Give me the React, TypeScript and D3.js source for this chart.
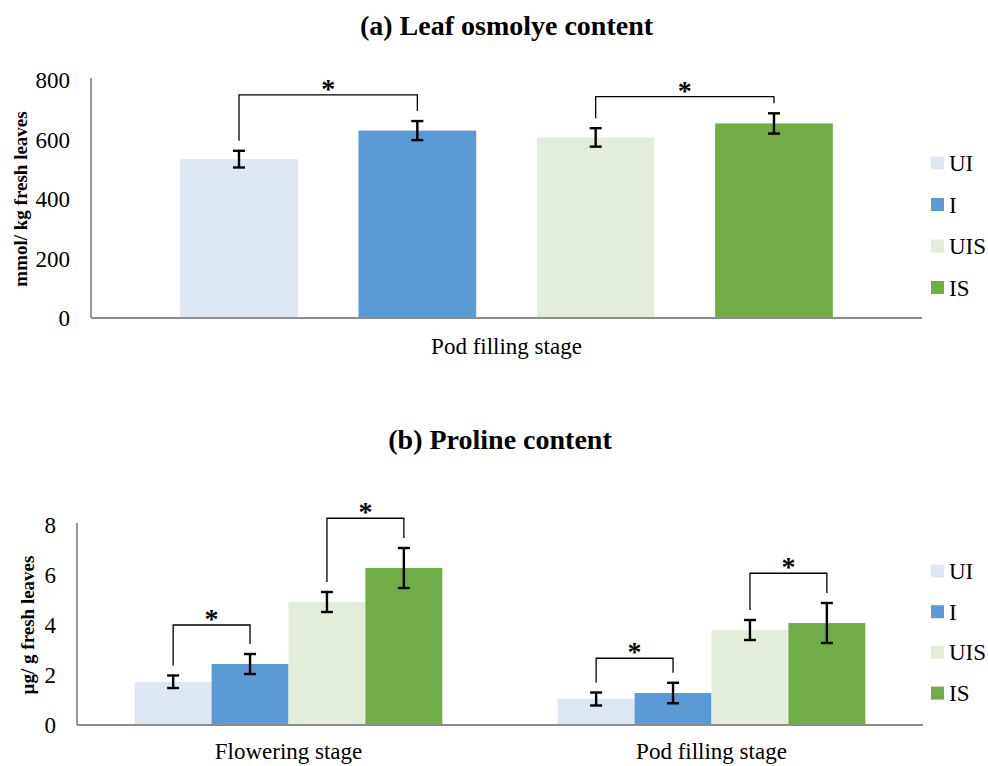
import { scaleBand, scaleLinear } from "d3";

const seriesNames = ["UI", "I", "UIS", "IS"];
const seriesColors = ["#DDE8F4", "#5B9BD5", "#E2EEDA", "#70AD47"];

// (a) leaf osmolyte
const osmoCategories = ["Pod filling stage"];
const osmoValues = [[534], [630], [607], [654]];
const osmoErrors = [[28], [32], [31], [34]];
const osmoTicks = [0, 200, 400, 600, 800];
// brackets: category index, from series, to series, level
const osmoBrackets = [
  [0, 0, 1, 750],
  [0, 2, 3, 744],
];

// (b) proline
const prolineCategories = ["Flowering stage", "Pod filling stage"];
const prolineValues = [
  [1.73, 1.04],
  [2.44, 1.28],
  [4.92, 3.8],
  [6.28, 4.08],
];
const prolineErrors = [
  [0.25, 0.26],
  [0.4, 0.41],
  [0.4, 0.4],
  [0.8, 0.8],
];
const prolineTicks = [0, 2, 4, 6, 8];
const prolineBrackets = [
  [0, 0, 1, 4.0],
  [0, 2, 3, 8.27],
  [1, 0, 1, 2.67],
  [1, 2, 3, 6.07],
];

const FONT = "'Liberation Serif', 'Times New Roman', serif";

const Panel = ({
  title,
  titleY,
  yLabel,
  categories,
  values,
  errors,
  ticks,
  brackets,
  x0,
  x1,
  yTop,
  yBase,
  padInner,
  padOuter,
  legendY,
  legendStep,
  catLabelY,
  yLabelX,
}) => {
  const y = scaleLinear()
    .domain([0, ticks[ticks.length - 1]])
    .range([yBase, yTop]);
  const outer = scaleBand().domain(categories).range([x0, x1]);
  const inner = scaleBand()
    .domain(seriesNames)
    .range([0, outer.bandwidth()])
    .paddingInner(padInner)
    .paddingOuter(padOuter);
  const bw = inner.bandwidth();
  const cx = (ci, si) =>
    outer(categories[ci]) + inner(seriesNames[si]) + bw / 2;
  const legGap = 10;

  return (
    <g fontFamily={FONT}>
      <text
        x={(x0 + x1) / 2}
        y={titleY}
        textAnchor="middle"
        fontWeight="bold"
        fontSize={28}
      >
        {title}
      </text>
      <text
        transform={`translate(${yLabelX},${(yTop + yBase) / 2}) rotate(-90)`}
        textAnchor="middle"
        fontWeight="bold"
        fontSize={19}
      >
        {yLabel}
      </text>
      {ticks.map((t) => (
        <text
          key={t}
          x={x0 - 21}
          y={y(t)}
          dy="0.35em"
          textAnchor="end"
          fontSize={23}
        >
          {t}
        </text>
      ))}
      {seriesNames.map((s, si) =>
        categories.map((c, ci) => (
          <rect
            key={s + c}
            x={outer(c) + inner(s)}
            y={y(values[si][ci])}
            width={bw}
            height={yBase - y(values[si][ci])}
            fill={seriesColors[si]}
          />
        ))
      )}
      <line x1={x0} x2={x0} y1={yTop - 2} y2={yBase} stroke="#8c8c8c" strokeWidth={1.8} />
      <line x1={x0} x2={x1} y1={yBase} y2={yBase} stroke="#8c8c8c" strokeWidth={1.8} />
      {seriesNames.map((s, si) =>
        categories.map((c, ci) => {
          const v = values[si][ci];
          const e = errors[si][ci];
          const x = cx(ci, si);
          return (
            <g key={"e" + s + c} stroke="#000" strokeWidth={2.4}>
              <line x1={x} x2={x} y1={y(v + e)} y2={y(v - e)} />
              <line x1={x - 6} x2={x + 6} y1={y(v + e)} y2={y(v + e)} />
              <line x1={x - 6} x2={x + 6} y1={y(v - e)} y2={y(v - e)} />
            </g>
          );
        })
      )}
      {brackets.map(([ci, a, b, level], i) => {
        const xa = cx(ci, a);
        const xb = cx(ci, b);
        const ly = y(level);
        const ya = y(values[a][ci] + errors[a][ci]) - legGap;
        const yb = y(values[b][ci] + errors[b][ci]) - legGap;
        return (
          <g key={"b" + i}>
            <path
              d={`M${xa},${ya}V${ly}H${xb}V${yb}`}
              fill="none"
              stroke="#000"
              strokeWidth={1.3}
            />
            <text
              x={(xa + xb) / 2}
              y={ly + 3}
              textAnchor="middle"
              fontWeight="bold"
              fontSize={28}
            >
              *
            </text>
          </g>
        );
      })}
      {categories.map((c) => (
        <text
          key={"c" + c}
          x={outer(c) + outer.bandwidth() / 2}
          y={catLabelY}
          textAnchor="middle"
          fontSize={23}
        >
          {c}
        </text>
      ))}
      {seriesNames.map((s, si) => (
        <g key={"l" + s} transform={`translate(931,${legendY + si * legendStep})`}>
          <rect x={0} y={-6.5} width={13} height={13} fill={seriesColors[si]} />
          <text x={18} y={0} dy="0.35em" fontSize={23}>
            {s}
          </text>
        </g>
      ))}
    </g>
  );
};

export default function App() {
  return (
    <svg
      width={988}
      height={766}
      style={{ position: "absolute", left: 0, top: 0, background: "#fff" }}
    >
      <Panel
        title="(a) Leaf osmolye content"
        titleY={35}
        yLabel="mmol/ kg fresh leaves"
        categories={osmoCategories}
        values={osmoValues}
        errors={osmoErrors}
        ticks={osmoTicks}
        brackets={osmoBrackets}
        x0={91}
        x1={922}
        yTop={80}
        yBase={318}
        padInner={0.34}
        padOuter={0.5}
        legendY={163}
        legendStep={41.5}
        catLabelY={354}
        yLabelX={27}
      />
      <Panel
        title="(b) Proline content"
        titleY={449}
        yLabel="µg/ g fresh leaves"
        categories={prolineCategories}
        values={prolineValues}
        errors={prolineErrors}
        ticks={prolineTicks}
        brackets={prolineBrackets}
        x0={77}
        x1={923}
        yTop={525}
        yBase={725}
        padInner={0}
        padOuter={0.75}
        legendY={571}
        legendStep={40.7}
        catLabelY={759}
        yLabelX={34}
      />
    </svg>
  );
}
